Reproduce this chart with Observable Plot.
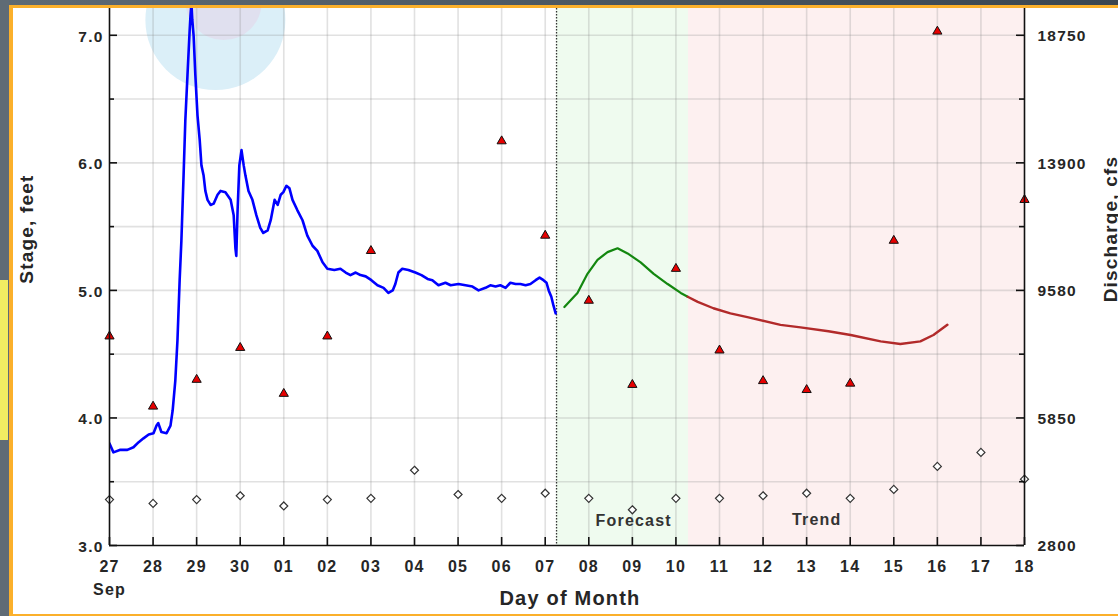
<!DOCTYPE html>
<html><head><meta charset="utf-8">
<script src="https://cdn.jsdelivr.net/npm/d3@7"></script>
<script src="https://cdn.jsdelivr.net/npm/@observablehq/plot@0.6"></script>
<style>
html,body{margin:0;padding:0;background:#fff;overflow:hidden}
#wrap{position:relative;width:1118px;height:616px;overflow:hidden}
#wrap svg{position:absolute;left:0;top:0}
.fr{position:absolute}
</style></head><body>
<div id="wrap"></div>
<script>
// ---- data ----
const dayLabels = ["27","28","29","30","01","02","03","04","05","06","07","08","09","10","11","12","13","14","15","16","17","18"];
const monthLabel = "Sep";
const stageTicks = [3, 4, 5, 6, 7];
const dischargeLabels = ["2800", "5850", "9580", "13900", "18750"];

// observed stage (days since Sep 27 00:00)
const obsDay = [0.00,0.09,0.25,0.41,0.55,0.67,0.78,0.90,1.01,1.08,1.12,1.19,1.31,1.40,1.45,1.51,1.56,1.61,1.65,1.70,1.74,1.79,1.84,1.86,1.88,1.90,1.93,1.97,2.02,2.07,2.11,2.16,2.20,2.25,2.32,2.39,2.48,2.55,2.66,2.78,2.85,2.89,2.91,2.94,2.98,3.03,3.08,3.12,3.19,3.28,3.37,3.46,3.53,3.63,3.70,3.79,3.86,3.93,3.99,4.06,4.13,4.20,4.31,4.43,4.54,4.66,4.77,4.89,5.00,5.16,5.30,5.42,5.53,5.65,5.76,5.88,6.01,6.15,6.29,6.40,6.50,6.56,6.63,6.72,6.86,7.02,7.16,7.30,7.41,7.55,7.71,7.83,8.01,8.17,8.33,8.47,8.63,8.74,8.86,8.97,9.09,9.20,9.32,9.43,9.55,9.66,9.78,9.87,9.96,10.03,10.08,10.14,10.19,10.24];
const obsStage = [3.80,3.73,3.75,3.75,3.77,3.81,3.84,3.87,3.88,3.94,3.96,3.89,3.88,3.94,4.06,4.29,4.61,5.08,5.39,5.90,6.33,6.69,7.04,7.16,7.25,7.12,7.00,6.69,6.37,6.18,5.98,5.90,5.78,5.71,5.67,5.68,5.75,5.78,5.77,5.71,5.59,5.33,5.27,5.63,5.98,6.10,5.98,5.90,5.78,5.71,5.59,5.49,5.45,5.47,5.55,5.71,5.67,5.75,5.77,5.82,5.80,5.71,5.63,5.55,5.43,5.35,5.31,5.22,5.17,5.16,5.17,5.14,5.12,5.14,5.12,5.11,5.08,5.04,5.02,4.98,5.00,5.05,5.14,5.17,5.16,5.14,5.12,5.09,5.08,5.04,5.06,5.04,5.05,5.04,5.03,5.00,5.02,5.04,5.03,5.04,5.02,5.06,5.05,5.05,5.04,5.05,5.08,5.10,5.08,5.06,5.00,4.95,4.88,4.82];

// forecast stage
const fcstDay = [10.44,10.74,10.97,11.20,11.43,11.66,11.89,12.19,12.49,12.81,13.11,13.27];
const fcstStage = [4.87,4.98,5.13,5.24,5.30,5.33,5.29,5.22,5.13,5.05,4.98,4.95];

// trend stage
const trendDay = [13.27,13.50,13.86,14.25,14.64,15.40,15.86,16.50,17.01,17.70,18.15,18.61,18.91,19.23];
const trendStage = [4.95,4.91,4.86,4.82,4.79,4.73,4.71,4.68,4.65,4.60,4.58,4.60,4.65,4.73];

// red triangles
const triDay = [0,1,2,3,4,5,6,9,10,11,12,13,14,15,16,17,18,19,21];
const triStage = [4.64,4.09,4.30,4.55,4.19,4.64,5.31,6.17,5.43,4.92,4.26,5.17,4.53,4.29,4.22,4.27,5.39,7.03,5.71];

// open diamonds
const diaDay = [0,1,2,3,4,5,6,7,8,9,10,11,12,13,14,15,16,17,18,19,20,21];
const diaStage = [3.36,3.33,3.36,3.39,3.31,3.36,3.37,3.59,3.40,3.37,3.41,3.37,3.28,3.37,3.37,3.39,3.41,3.37,3.44,3.62,3.73,3.52];

// periods
const nowDay = 10.26;
const forecastEnd = 13.29;
const periodNames = ["Forecast", "Trend"];
const periodLabelDay = [12.03, 16.23];
const periodLabelStage = [3.19, 3.20];

// ---- layout ----
const W = 1118, H = 616;
const mL = 109, mR = 94, mT = 8, mB = 71;
const xDomain = [0, 21], yDomain = [3, 7.21];
const pxX = (xDomain[1] - xDomain[0]) / (W - mL - mR);
const pxY = (yDomain[1] - yDomain[0]) / (H - mT - mB);

const obs = obsDay.map((d, i) => ({day: d, stage: obsStage[i]}));
const fcst = fcstDay.map((d, i) => ({day: d, stage: fcstStage[i]}));
const trend = trendDay.map((d, i) => ({day: d, stage: trendStage[i]}));
const tri = triDay.map((d, i) => ({day: d, stage: triStage[i]}));
const dia = diaDay.map((d, i) => ({day: d, stage: diaStage[i]}));
const periodText = periodNames.map((n, i) => ({name: n, day: periodLabelDay[i], stage: periodLabelStage[i]}));
const dayTicks = d3.range(0, 22);
const halfTicks = d3.range(3.5, 7.01, 1);
const gridY = d3.range(3.5, 7.01, 0.5);
const logo = [{day: 2.43, stage: 7.12}];
const logoInner = [{day: 2.62, stage: 7.26}];

const titleOpts = {textAnchor: "middle", lineAnchor: "middle", fontSize: 19, letterSpacing: "1.4px"};

const chart = Plot.plot({
  width: W, height: H,
  marginLeft: mL, marginRight: mR, marginTop: mT, marginBottom: mB,
  x: {domain: xDomain, axis: null},
  y: {domain: yDomain, axis: null},
  style: {fontFamily: "'Liberation Sans', Arial, sans-serif", fontWeight: "bold", fontSize: "15px", color: "#262626", background: "white", letterSpacing: "1.2px", overflow: "visible"},
  marks: [
    // watermark
    Plot.dot(logo, {x: "day", y: "stage", r: 70, fill: "#dbeff8", clip: true}),
    Plot.dot(logoInner, {x: "day", y: "stage", r: 38, fill: "#e0e0ef", clip: true}),
    // shaded periods
    Plot.rect([0], {x1: nowDay, x2: forecastEnd, y1: yDomain[0], y2: yDomain[1], fill: "#effbef"}),
    Plot.rect([0], {x1: forecastEnd, x2: xDomain[1], y1: yDomain[0], y2: yDomain[1], fill: "#fdf0f0"}),
    // grid
    Plot.ruleX(d3.range(1, 21), {stroke: "#888", strokeOpacity: 0.25, strokeWidth: 1.6}),
    Plot.ruleY(gridY, {stroke: "#888", strokeOpacity: 0.25, strokeWidth: 1.6}),
    // now line
    Plot.ruleX([nowDay], {stroke: "#333", strokeWidth: 1.3, strokeDasharray: "1.5,1.5"}),
    // series
    Plot.line(obs, {x: "day", y: "stage", stroke: "#0000ff", strokeWidth: 2.6, clip: true}),
    Plot.line(fcst, {x: "day", y: "stage", stroke: "#13870f", strokeWidth: 2.2}),
    Plot.line(trend, {x: "day", y: "stage", stroke: "#b22a2a", strokeWidth: 2.4}),
    Plot.dot(dia, {x: "day", y: "stage", symbol: "diamond2", r: 3.6, fill: "white", stroke: "#333", strokeWidth: 1.2}),
    Plot.dot(tri, {x: "day", y: "stage", symbol: "triangle", r: 3.4, fill: "#e60000", stroke: "#111", strokeWidth: 1}),
    // period labels
    Plot.text(periodText, {x: "day", y: "stage", text: "name", fontSize: 16, fill: "#333", letterSpacing: "1.5px"}),
    // axis lines
    Plot.ruleX([xDomain[0], xDomain[1]], {stroke: "#111", strokeWidth: 1.6}),
    Plot.ruleY([yDomain[0]], {stroke: "#111", strokeWidth: 1.6}),
    // inward ticks
    Plot.ruleX(dayTicks, {y1: yDomain[0], y2: yDomain[0] + 8 * pxY, stroke: "#111", strokeWidth: 1.6}),
    Plot.ruleY(stageTicks, {x1: xDomain[0], x2: xDomain[0] + 8 * pxX, stroke: "#111", strokeWidth: 1.6}),
    Plot.ruleY(halfTicks, {x1: xDomain[0], x2: xDomain[0] + 5 * pxX, stroke: "#111", strokeWidth: 1.6}),
    Plot.ruleY(stageTicks, {x1: xDomain[1] - 8 * pxX, x2: xDomain[1], stroke: "#111", strokeWidth: 1.6}),
    Plot.ruleY(halfTicks, {x1: xDomain[1] - 5 * pxX, x2: xDomain[1], stroke: "#111", strokeWidth: 1.6}),
    // tick labels
    Plot.axisX(dayTicks, {anchor: "bottom", tickSize: 0, tickPadding: 15, tickFormat: d => dayLabels[d], label: null, fontSize: 16}),
    Plot.axisX([0], {anchor: "bottom", tickSize: 0, tickPadding: 38, tickFormat: () => monthLabel, label: null, fontSize: 16}),
    Plot.axisY(stageTicks, {anchor: "left", tickSize: 0, tickPadding: 6, dy: 1.5, tickFormat: d => d.toFixed(1), label: null, fontSize: 15.5}),
    Plot.axisY(stageTicks, {anchor: "right", tickSize: 0, tickPadding: 13, dy: 1, tickFormat: d => dischargeLabels[stageTicks.indexOf(d)], label: null, fontSize: 15.5}),
    // axis titles
    Plot.text(["Day of Month"], {...titleOpts, frameAnchor: "bottom", dx: 3, dy: 53, fontSize: 20}),
    Plot.text(["Stage, feet"], {...titleOpts, frameAnchor: "left", rotate: -90, dx: -83, dy: -48}),
    Plot.text(["Discharge, cfs"], {...titleOpts, frameAnchor: "right", rotate: -90, dx: 86, dy: -48})
  ]
});
const wrap = document.getElementById("wrap");
wrap.appendChild(chart);

// frame decoration
const deco = [
  {l: 0, t: 0, w: 1118, h: 5, bg: "linear-gradient(90deg,#5e6a74,#3b4650)"},
  {l: 0, t: 0, w: 9, h: 616, bg: "#5f6b75"},
  {l: 0, t: 280, w: 8, h: 160, bg: "#f1ed62"},
  {l: 9, t: 5, w: 1109, h: 3, bg: "#fbb02b"},
  {l: 9, t: 5, w: 4, h: 611, bg: "#fbb02b"},
  {l: 9, t: 614, w: 1109, h: 2, bg: "#fbb02b"}
];
for (const d of deco) {
  const e = document.createElement("div");
  e.className = "fr";
  e.style.left = d.l + "px"; e.style.top = d.t + "px";
  e.style.width = d.w + "px"; e.style.height = d.h + "px";
  e.style.background = d.bg;
  wrap.appendChild(e);
}
</script>
</body></html>
